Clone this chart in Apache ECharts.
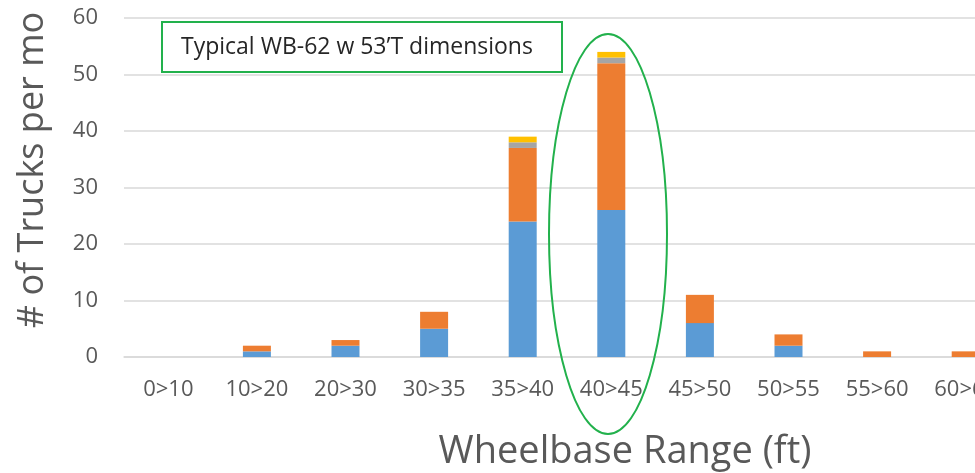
<!DOCTYPE html>
<html>
<head>
<meta charset="utf-8">
<script src="https://cdn.jsdelivr.net/npm/echarts@6/dist/echarts.min.js"></script>
<style>html,body{margin:0;padding:0;background:#fff}#c{width:975px;height:473px}</style>
</head>
<body>
<div id="c"></div>
<script>
const categories = ['0>10','10>20','20>30','30>35','35>40','40>45','45>50','50>55','55>60','60>65'];
const seriesBlue   = [0, 1, 2, 5, 24, 26, 6, 2, 0, 0];
const seriesOrange = [0, 1, 1, 3, 13, 26, 5, 2, 1, 1];
const seriesGray   = [0, 0, 0, 0, 1, 1, 0, 0, 0, 0];
const seriesYellow = [0, 0, 0, 0, 1, 1, 0, 0, 0, 0];
const yTicks = [0, 10, 20, 30, 40, 50, 60];

const chart = echarts.init(document.getElementById('c'), null, {renderer: 'canvas'});
const font = '"Open Sans", "Noto Sans", sans-serif';
const mk = (name, data, color) => ({
  name, type: 'bar', stack: 'a', data, barWidth: 28,
  itemStyle: {color}, animation: false
});
chart.setOption({
  animation: false,
  grid: {left: 124, top: 18, width: 886, height: 339, containLabel: false, outerBoundsMode: 'none'},
  xAxis: {
    type: 'category', data: categories,
    axisLine: {lineStyle: {color: '#D9D9D9', width: 1.5}},
    axisTick: {show: false},
    axisLabel: {color: '#595959', fontSize: 22, fontFamily: font, margin: 22, interval: 0, hideOverlap: false}
  },
  yAxis: {
    type: 'value', min: 0, max: 60, interval: 10,
    axisLine: {show: false}, axisTick: {show: false},
    axisLabel: {color: '#595959', fontSize: 22, fontFamily: font, margin: 26,
      formatter: v => yTicks.includes(v) ? String(v) : ''},
    splitLine: {lineStyle: {color: '#D9D9D9', width: 1.5}}
  },
  series: [
    mk('Blue', seriesBlue, '#5B9BD5'),
    mk('Orange', seriesOrange, '#ED7D31'),
    mk('Gray', seriesGray, '#A5A5A5'),
    mk('Yellow', seriesYellow, '#FFC000')
  ],
  graphic: [
    {type: 'text', x: 625, y: 452, style: {text: 'Wheelbase Range (ft)', fontSize: 38, fontFamily: font,
      fill: '#595959', align: 'center', verticalAlign: 'middle'}},
    {type: 'text', x: 33, y: 170, rotation: Math.PI / 2, style: {text: '# of Trucks per mo', fontSize: 36, fontFamily: font,
      fill: '#595959', align: 'center', verticalAlign: 'middle'}},
    {type: 'rect', shape: {x: 162, y: 22, width: 400, height: 50},
      style: {fill: '#fff', stroke: '#22B14C', lineWidth: 2}, z: 10},
    {type: 'text', x: 181, y: 47, style: {text: 'Typical WB-62 w 53\u2019T dimensions', fontSize: 23, fontFamily: font,
      fill: '#262626', verticalAlign: 'middle'}, z: 11},
    {type: 'ellipse', shape: {cx: 608, cy: 234, rx: 59, ry: 200},
      style: {fill: 'none', stroke: '#22B14C', lineWidth: 2}, z: 10}
  ]
});
</script>
</body>
</html>
